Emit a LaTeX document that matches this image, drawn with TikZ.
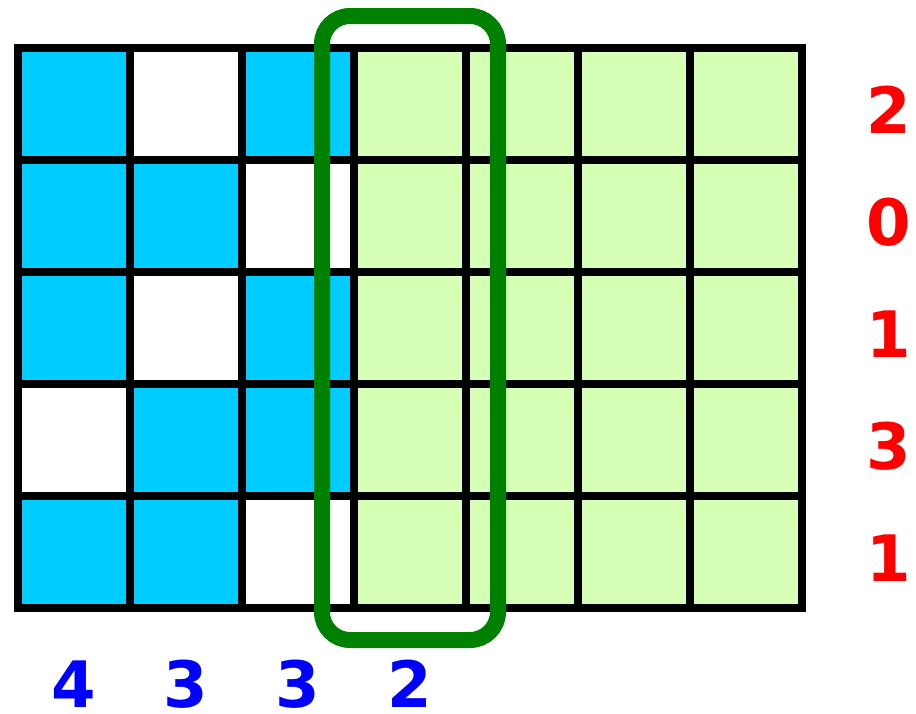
\documentclass[tikz,border=0pt]{standalone}
\usepackage{fontspec}
\setmainfont{DejaVu Sans}
\definecolor{cellblue}{HTML}{00CCFF}
\definecolor{cellgreen}{HTML}{D4FFB4}
\definecolor{ringgreen}{HTML}{008000}
\definecolor{numblue}{HTML}{0000FF}
\definecolor{numred}{HTML}{FF0000}
\tikzset{
  gridline/.style={line width=8pt, black},
  ring/.style={draw=ringgreen, line width=16pt, rounded corners=28pt},
  colnum/.style={text=numblue, font=\fontsize{64}{64}\selectfont\bfseries, inner sep=0pt},
  rownum/.style={text=numred, font=\fontsize{64}{64}\selectfont\bfseries, inner sep=0pt}
}
\begin{document}
\begin{tikzpicture}[x=1pt,y=-1pt]
\useasboundingbox (0,0) rectangle (916,713);
% cells
\foreach \c/\r/\col in {0/0/cellblue,1/0/white,2/0/cellblue,
                        0/1/cellblue,1/1/cellblue,2/1/white,
                        0/2/cellblue,1/2/white,2/2/cellblue,
                        0/3/white,1/3/cellblue,2/3/cellblue,
                        0/4/cellblue,1/4/cellblue,2/4/white}
  \fill[\col] (18+112*\c,48+112*\r) rectangle ++(112,112);
\fill[cellgreen] (354,48) rectangle (802,608);
% grid lines
\foreach \i in {1,...,6}
  \draw[gridline] (18+112*\i,48) -- (18+112*\i,608);
\foreach \j in {1,...,4}
  \draw[gridline] (18,48+112*\j) -- (802,48+112*\j);
\draw[gridline] (18,48) rectangle (802,608);
% green ring
\draw[ring] (322,16) rectangle (498,640);
% column numbers
\node[colnum] (c1) at (74,684) {4};
\node[colnum] (c2) at (186,684) {3};
\node[colnum] (c3) at (298,684) {3};
\node[colnum] (c4) at (410,684) {2};
% row numbers
\node[rownum] (r1) at (889,110) {2};
\node[rownum] (r2) at (889,222) {0};
\node[rownum] (r3) at (889,334) {1};
\node[rownum] (r4) at (889,446) {3};
\node[rownum] (r5) at (889,558) {1};
\end{tikzpicture}
\end{document}
